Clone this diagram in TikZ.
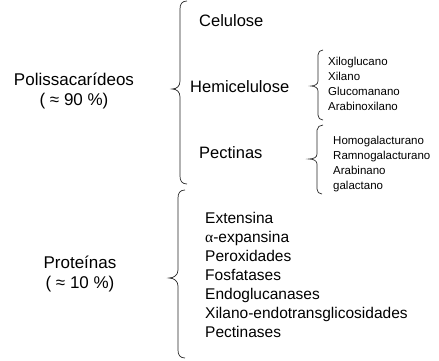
\documentclass[tikz,border=0pt]{standalone}
\usepackage{fontspec}
\setmainfont{Liberation Sans}
\newfontfamily\symf{Liberation Serif}
\begin{document}
\begin{tikzpicture}[x=1pt,y=-1pt,
  lbl/.style={inner sep=0pt, align=center, font=\fontsize{17}{20}\selectfont},
  cat/.style={inner sep=0pt, anchor=west, font=\fontsize{16.5}{19}\selectfont},
  biglist/.style={inner sep=0pt, anchor=west, align=left, font=\fontsize{15.5}{19}\selectfont},
  smalllist/.style={inner sep=0pt, anchor=west, align=left, font=\fontsize{11.5}{14.8}\selectfont},
  brc/.style={draw=black!85, line width=0.7pt}]
\useasboundingbox (0,0) rectangle (439,360);

% left labels
\node[lbl] (poli) at (74,91) {Polissacarídeos\\( ≈ 90 \%)};
\node[lbl] (prot) at (80,274) {Proteínas\\( ≈ 10 \%)};

% categories
\node[cat] (celu) at (199,21) {Celulose};
\node[cat] (hemi) at (190,87) {Hemicelulose};
\node[cat] (pect) at (199,153) {Pectinas};

% sub-lists
\node[smalllist] (hemilist) at (328,84) {Xiloglucano\\Xilano\\Glucomanano\\Arabinoxilano};
\node[smalllist] (pectlist) at (333,164) {Homogalacturano\\Ramnogalacturano\\Arabinano\\galactano};
\node[biglist] (protlist) at (205,275) {Extensina\\{\symf α}-expansina\\Peroxidades\\Fosfatases\\Endoglucanases\\Xilano-endotransglicosidades\\Pectinases};

% brace 1 (polissacarideos)
\draw[brc] (187,1) .. controls (182,1) and (180,4) .. (180,9) -- (180,81)
  .. controls (180,86) and (177,89) .. (172,89)
  .. controls (177,89) and (180,92) .. (180,97) -- (180,176)
  .. controls (180,181) and (182,184) .. (187,184);
% brace 2 (proteinas)
\draw[brc] (185,190) .. controls (180,190) and (178,193) .. (178,198) -- (178,270)
  .. controls (178,275) and (174,278) .. (169,278)
  .. controls (174,278) and (178,281) .. (178,286) -- (178,350)
  .. controls (178,355) and (180,358) .. (185,358);
% brace hemicelulose
\draw[brc] (323,50) .. controls (320,50) and (318,52) .. (318,55) -- (318,81)
  .. controls (318,84) and (315,86) .. (311,86)
  .. controls (315,86) and (318,88) .. (318,91) -- (318,115)
  .. controls (318,118) and (320,120) .. (323,120);
% brace pectinas
\draw[brc] (323,125) .. controls (320,125) and (317,127) .. (317,130) -- (317,154)
  .. controls (317,157) and (314,159) .. (309,159)
  .. controls (314,159) and (317,161) .. (317,164) -- (317,189)
  .. controls (317,192) and (319,194) .. (322,194);
\end{tikzpicture}
\end{document}
